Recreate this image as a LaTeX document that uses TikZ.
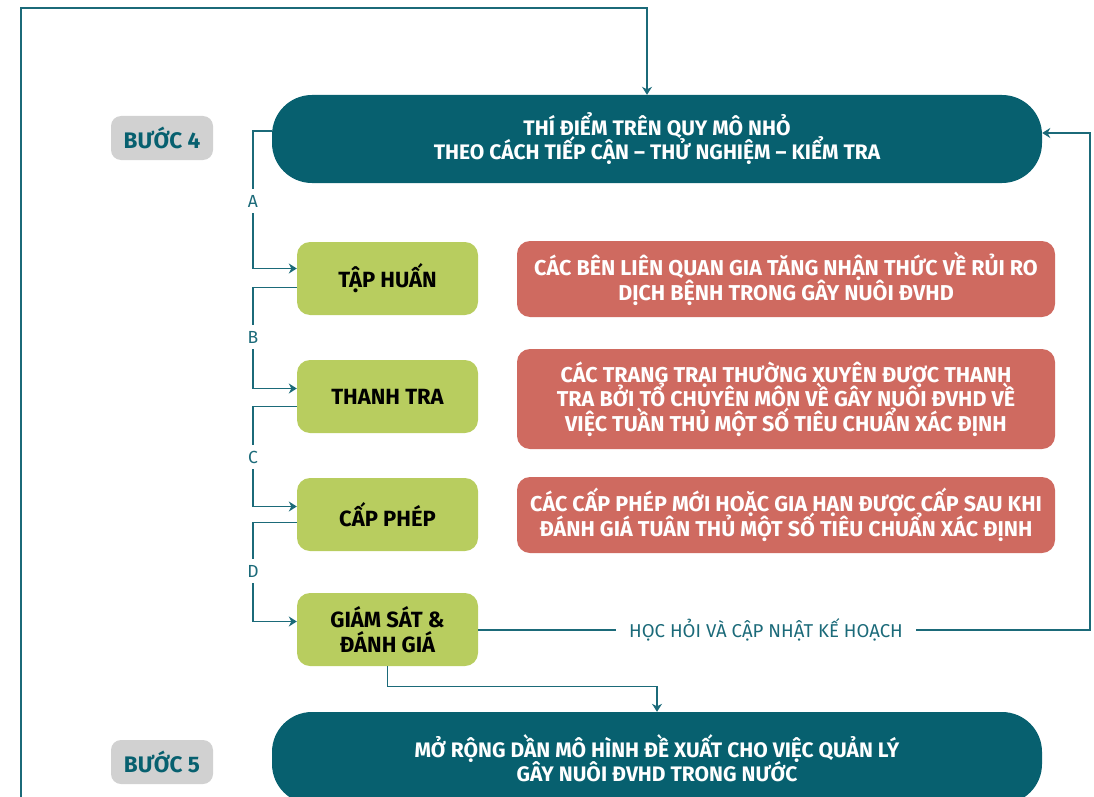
\documentclass[tikz,border=0pt]{standalone}
\usepackage{fontspec}
\setmainfont{Fira Sans}
\usetikzlibrary{arrows.meta, positioning}
\definecolor{mTeal}{HTML}{07606F}
\definecolor{mLine}{HTML}{1B6A79}
\definecolor{mGreen}{HTML}{B8CD5F}
\definecolor{mRed}{HTML}{CF6A60}
\definecolor{mGray}{HTML}{D1D1D1}
\setlength{\lineskiplimit}{-100pt}

\begin{document}
\begin{tikzpicture}[x=1pt, y=-1pt,
      stepbox/.style={fill=mTeal, text=white, rounded corners=40pt, minimum width=770pt, minimum height=88pt, align=center, font=\fontsize{21}{24}\selectfont\bfseries},
      tag/.style={fill=mGray, text=mTeal, rounded corners=10pt, minimum width=102pt, minimum height=44pt, font=\fontsize{22.5}{24}\selectfont\bfseries},
      act/.style={fill=mGreen, rounded corners=13pt, minimum width=181pt, minimum height=73pt, align=center, font=\fontsize{22}{25.5}\selectfont\bfseries},
      res/.style={fill=mRed, text=white, rounded corners=13pt, minimum width=538pt, align=center, font=\fontsize{21.5}{24.5}\selectfont\bfseries},
      lbl/.style={text=mLine, inner sep=6pt, font=\fontsize{17.5}{20}\selectfont},
      link/.style={draw=mLine, line width=1.4pt},
      arr/.style={link, -{Stealth[length=8pt, width=10pt, inset=2.5pt]}}]
    \useasboundingbox (0,0) rectangle (1094,797);
    % step boxes
    \node[stepbox] (top) at (657,139) {THÍ ĐIỂM TRÊN QUY MÔ NHỎ\\THEO CÁCH TIẾP CẬN -- THỬ NGHIỆM -- KIỂM TRA};
    \node[stepbox, minimum height=92pt] (bot) at (657,758) {MỞ RỘNG DẦN MÔ HÌNH ĐỀ XUẤT CHO VIỆC QUẢN LÝ\\GÂY NUÔI ĐVHD TRONG NƯỚC};
    \node[tag] (s4) at (162,138) {BƯỚC 4};
    \node[tag] (s5) at (162,762) {BƯỚC 5};
    % activities
    \node[act] (tap)   at (387.5,278.5) {TẬP HUẤN};
    \node[act] (thanh) at (387.5,396.5) {THANH TRA};
    \node[act] (cap)   at (387.5,514.5) {CẤP PHÉP};
    \node[act] (giam)  at (387.5,629.5) {GIÁM SÁT \&\\ĐÁNH GIÁ};
    % results
    \node[res, minimum height=76pt]  (r1) at (786,279) {CÁC BÊN LIÊN QUAN GIA TĂNG NHẬN THỨC VỀ RỦI RO\\DỊCH BỆNH TRONG GÂY NUÔI ĐVHD};
    \node[res, minimum height=100pt] (r2) at (786,399) {CÁC TRANG TRẠI THƯỜNG XUYÊN ĐƯỢC THANH\\TRA BỞI TỔ CHUYÊN MÔN VỀ GÂY NUÔI ĐVHD VỀ\\VIỆC TUẦN THỦ MỘT SỐ TIÊU CHUẨN XÁC ĐỊNH};
    \node[res, minimum height=76pt]  (r3) at (786,515) {CÁC CẤP PHÉP MỚI HOẶC GIA HẠN ĐƯỢC CẤP SAU KHI\\ĐÁNH GIÁ TUÂN THỦ MỘT SỐ TIÊU CHUẨN XÁC ĐỊNH};
    % letters
    \node[lbl] (la) at (253,201) {A};
    \node[lbl] (lb) at (253,337) {B};
    \node[lbl] (lc) at (253,457) {C};
    \node[lbl] (ld) at (253,571) {D};
    \node[lbl, inner xsep=13pt, font=\fontsize{18.6}{20}\selectfont] (learn) at (766,630) {HỌC HỎI VÀ CẬP NHẬT KẾ HOẠCH};
    \coordinate (rx) at (1090,630);
    \coordinate (lo) at (21,800);
    \coordinate (tl) at (21,8);
    % connectors
    \draw[link] ([yshift=8pt]top.west) -| (la.north);
    \draw[arr] (la.south) |- ([yshift=10pt]tap.west);
    \draw[link] ([yshift=-9pt]tap.west) -| (lb.north);
    \draw[arr] (lb.south) |- ([yshift=8pt]thanh.west);
    \draw[link] ([yshift=-10pt]thanh.west) -| (lc.north);
    \draw[arr] (lc.south) |- ([yshift=8pt]cap.west);
    \draw[link] ([yshift=-8pt]cap.west) -| (ld.north);
    \draw[arr] (ld.south) |- ([yshift=8pt]giam.west);
    \draw[link] (giam.east |- learn) -- (learn.west);
    \draw[arr] (learn.east) -- (rx) |- ([yshift=6pt]top.east);
    \draw[arr] (giam.south) -- ++(0,20) -| (bot.north);
    \draw[arr] (lo) -- (tl) -| ([xshift=-10pt]top.north);
  \end{tikzpicture}
\end{document}
